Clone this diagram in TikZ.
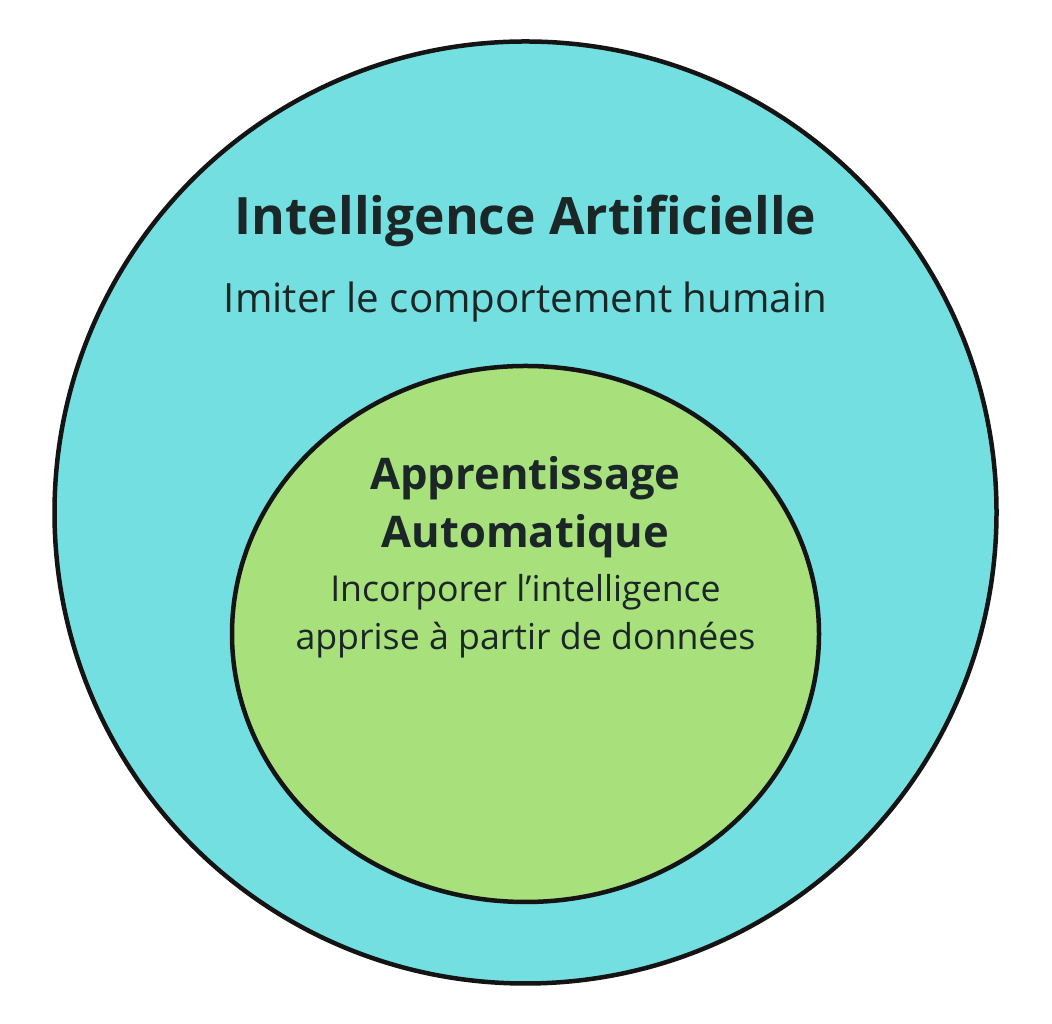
\documentclass[tikz,border=0pt]{standalone}
\usepackage{fontspec}
\setmainfont{Open Sans}
\usepackage{tikz}
\usetikzlibrary{shapes.geometric}

\definecolor{iacyan}{HTML}{74DFE0}
\definecolor{aagreen}{HTML}{A8E07C}
\definecolor{ink}{HTML}{1B2626}

\begin{document}
\begin{tikzpicture}[x=1pt,y=1pt,
    set/.style={draw=black!92, line width=4.5pt, inner sep=0pt},
    titre/.style={anchor=base, text=ink, font=\bfseries\fontsize{#1}{#1}\selectfont},
    legende/.style={anchor=base, text=ink, font=\fontsize{#1}{#1}\selectfont}]
  \useasboundingbox[fill=white] (0,0) rectangle (1052,1024);

  % ensembles
  \node[set, circle, fill=iacyan, minimum size=942pt]            (ia) at (525.5,511.5) {};
  \node[set, ellipse, fill=aagreen, minimum width=587pt,
        minimum height=536pt]                                    (aa) at (525.5,390)   {};

  % textes
  \node[titre=51.5]   (iatitre) at (525.5,789) {Intelligence Artificielle};
  \node[legende=40.3] (iatexte) at (525.5,711) {Imiter le comportement humain};
  \node[titre=43.5]   (aatitre) at (525.5,534) {Apprentissage};
  \node[titre=43.5]   (aatitre2) at (525.5,476) {Automatique};
  \node[legende=35.7] (aatexte) at (525.5,422) {Incorporer l’intelligence};
  \node[legende=35.7] (aatexte2) at (525.5,374) {apprise à partir de données};
\end{tikzpicture}
\end{document}
